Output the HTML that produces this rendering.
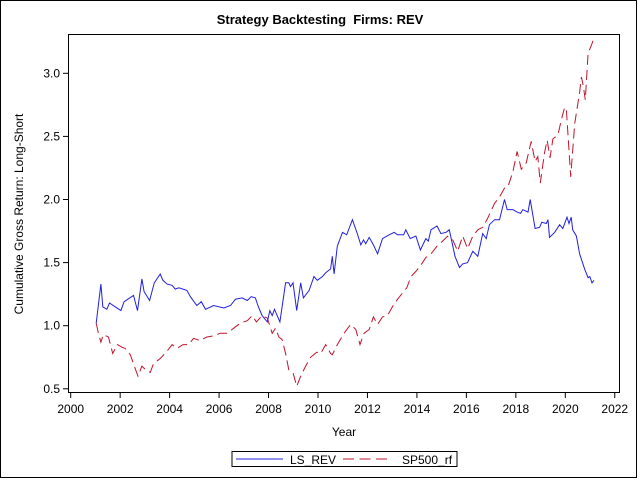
<!DOCTYPE html>
<html><head><meta charset="utf-8"><style>
body{margin:0;background:#fff}
svg text{font-family:"Liberation Sans",Arial,sans-serif;fill:#000}
</style></head><body>
<svg id="c" width="640" height="480" viewBox="0 0 640 480" xmlns="http://www.w3.org/2000/svg">
<rect x="0.5" y="0.5" width="636" height="477" fill="#fff" stroke="#000"/>
<text x="320" y="24" text-anchor="middle" font-size="13" font-weight="bold">Strategy Backtesting&#160; Firms: REV</text>
<text transform="translate(23,214) rotate(-90)" text-anchor="middle" font-size="12">Cumulative Gross Return: Long-Short</text>
<text x="344" y="436" text-anchor="middle" font-size="12">Year</text>
<g id="axes"></g>
<g id="series"></g>
<rect x="232" y="451.5" width="225" height="15" fill="none" stroke="#000"/>
<line x1="236" y1="459" x2="283" y2="459" stroke="#2020e0" stroke-width="1"/>
<text x="290" y="464" font-size="12">LS_REV</text>
<line x1="343" y1="459" x2="387" y2="459" stroke="#c0142c" stroke-width="1" stroke-dasharray="11,5.5"/>
<text x="402" y="464" font-size="12">SP500_rf</text>
<rect x="68.5" y="34.5" width="551" height="358" fill="none" stroke="#000"/>
</svg>
<script>
const xTicks=[2000,2002,2004,2006,2008,2010,2012,2014,2016,2018,2020,2022];
const yTicks=[0.5,1.0,1.5,2.0,2.5,3.0];
const lsYears=[2001.03,2001.22,2001.3,2001.46,2001.57,2001.8,2002.03,2002.16,2002.54,2002.7,2002.88,2002.97,2003.19,2003.38,2003.62,2003.73,2003.9,2004.1,2004.23,2004.37,2004.7,2004.84,2005.1,2005.28,2005.45,2005.78,2006.19,2006.46,2006.66,2006.93,2007.14,2007.3,2007.47,2007.57,2007.74,2007.95,2008.05,2008.15,2008.24,2008.46,2008.69,2008.82,2008.89,2008.99,2009.14,2009.3,2009.41,2009.64,2009.84,2009.97,2010.18,2010.31,2010.51,2010.58,2010.65,2010.78,2010.99,2011.16,2011.39,2011.59,2011.73,2011.84,2011.93,2012.07,2012.24,2012.41,2012.61,2012.88,2013.08,2013.22,2013.46,2013.55,2013.73,2013.96,2014.14,2014.36,2014.46,2014.57,2014.81,2014.97,2015.18,2015.31,2015.54,2015.72,2015.85,2016.05,2016.26,2016.46,2016.66,2016.8,2016.93,2017.14,2017.34,2017.54,2017.65,2017.88,2018.05,2018.19,2018.28,2018.49,2018.58,2018.78,2018.96,2019.05,2019.23,2019.3,2019.36,2019.57,2019.77,2019.9,2020.07,2020.15,2020.24,2020.3,2020.45,2020.58,2020.78,2020.92,2020.99,2021.08,2021.16];
const lsValues=[1.02,1.33,1.15,1.13,1.18,1.15,1.12,1.19,1.24,1.12,1.37,1.27,1.20,1.34,1.41,1.36,1.33,1.32,1.29,1.30,1.28,1.23,1.16,1.19,1.13,1.16,1.14,1.16,1.21,1.22,1.20,1.23,1.22,1.16,1.08,1.03,1.12,1.08,1.13,1.03,1.34,1.34,1.31,1.34,1.12,1.34,1.22,1.28,1.39,1.36,1.39,1.42,1.45,1.55,1.41,1.63,1.74,1.72,1.84,1.73,1.64,1.68,1.65,1.70,1.64,1.57,1.69,1.72,1.74,1.72,1.72,1.76,1.69,1.71,1.60,1.69,1.67,1.76,1.79,1.73,1.74,1.76,1.55,1.46,1.49,1.50,1.59,1.55,1.73,1.69,1.80,1.84,1.84,2.00,1.92,1.92,1.90,1.89,1.92,1.90,2.00,1.77,1.78,1.82,1.81,1.84,1.70,1.74,1.80,1.77,1.86,1.81,1.86,1.76,1.71,1.57,1.45,1.38,1.39,1.34,1.36];
const spYears=[2001.03,2001.12,2001.22,2001.32,2001.53,2001.7,2001.89,2002.07,2002.2,2002.41,2002.61,2002.72,2002.88,2003.08,2003.22,2003.35,2003.62,2003.86,2004.1,2004.3,2004.54,2004.77,2004.97,2005.24,2005.49,2005.78,2006.05,2006.32,2006.59,2006.86,2007.14,2007.34,2007.51,2007.74,2007.95,2008.15,2008.28,2008.42,2008.55,2008.69,2008.82,2009.0,2009.14,2009.3,2009.5,2009.7,2009.95,2010.11,2010.31,2010.51,2010.58,2010.78,2011.05,2011.32,2011.53,2011.7,2011.86,2012.07,2012.24,2012.41,2012.61,2012.81,2013.01,2013.22,2013.42,2013.59,2013.76,2013.96,2014.16,2014.36,2014.57,2014.81,2015.04,2015.24,2015.45,2015.65,2015.85,2016.05,2016.26,2016.46,2016.66,2016.86,2017.14,2017.34,2017.54,2017.68,2017.88,2018.05,2018.22,2018.42,2018.62,2018.78,2018.89,2018.99,2019.16,2019.27,2019.38,2019.5,2019.7,2019.84,2019.97,2020.04,2020.22,2020.38,2020.58,2020.65,2020.72,2020.81,2020.92,2021.05,2021.16];
const spValues=[1.02,0.94,0.87,0.93,0.91,0.78,0.85,0.83,0.82,0.77,0.66,0.60,0.68,0.64,0.63,0.70,0.74,0.79,0.85,0.82,0.85,0.85,0.90,0.88,0.91,0.92,0.94,0.94,0.98,1.02,1.04,1.08,1.03,1.08,1.06,0.94,0.98,0.91,0.89,0.78,0.65,0.62,0.52,0.60,0.68,0.75,0.79,0.78,0.85,0.78,0.77,0.85,0.94,1.01,0.97,0.85,0.94,0.97,1.07,1.01,1.07,1.08,1.15,1.21,1.26,1.30,1.39,1.43,1.48,1.54,1.57,1.63,1.67,1.71,1.68,1.59,1.71,1.61,1.71,1.76,1.78,1.85,1.97,2.02,2.09,2.10,2.22,2.38,2.24,2.29,2.46,2.30,2.34,2.13,2.37,2.47,2.33,2.48,2.51,2.63,2.73,2.72,2.18,2.60,2.85,2.97,2.91,2.79,3.16,3.22,3.28];
const NS='http://www.w3.org/2000/svg';
function xs(v){return 70.7+(v-2000)*24.73;}
function ys(v){return 325.7-(v-1)*126.2;}
const ax=document.getElementById('axes');
xTicks.forEach(t=>{
  const l=document.createElementNS(NS,'line');
  l.setAttribute('x1',xs(t));l.setAttribute('x2',xs(t));l.setAttribute('y1',392.5);l.setAttribute('y2',398);l.setAttribute('stroke','#000');
  
  
  ax.appendChild(l);
  const tx=document.createElementNS(NS,'text');
  tx.setAttribute('x',xs(t));tx.setAttribute('y',413);tx.setAttribute('text-anchor','middle');tx.setAttribute('font-size','12');
  tx.textContent=t;
  
  
  ax.appendChild(tx);
});
yTicks.forEach(t=>{
  const l=document.createElementNS(NS,'line');
  l.setAttribute('x1',63);l.setAttribute('x2',68.5);l.setAttribute('y1',ys(t));l.setAttribute('y2',ys(t));l.setAttribute('stroke','#000');
  
  
  ax.appendChild(l);
  const tx=document.createElementNS(NS,'text');
  tx.setAttribute('x',60);tx.setAttribute('y',ys(t)+4);tx.setAttribute('text-anchor','end');tx.setAttribute('font-size','12');
  tx.textContent=t.toFixed(1);
  
  
  ax.appendChild(tx);
});
const sg=document.getElementById('series');
function line(xa,va,color,dash,name){
  const p=document.createElementNS(NS,'polyline');
  p.setAttribute('points',xa.map((x,i)=>xs(x).toFixed(1)+','+ys(va[i]).toFixed(1)).join(' '));
  p.setAttribute('fill','none');p.setAttribute('stroke',color);p.setAttribute('stroke-width','1');
  if(dash)p.setAttribute('stroke-dasharray',dash);
  
  
  sg.appendChild(p);
}
line(spYears,spValues,'#c0142c','10,5','sp500-rf-line');
line(lsYears,lsValues,'#2020e0',null,'ls-rev-line');
</script>
</body></html>
